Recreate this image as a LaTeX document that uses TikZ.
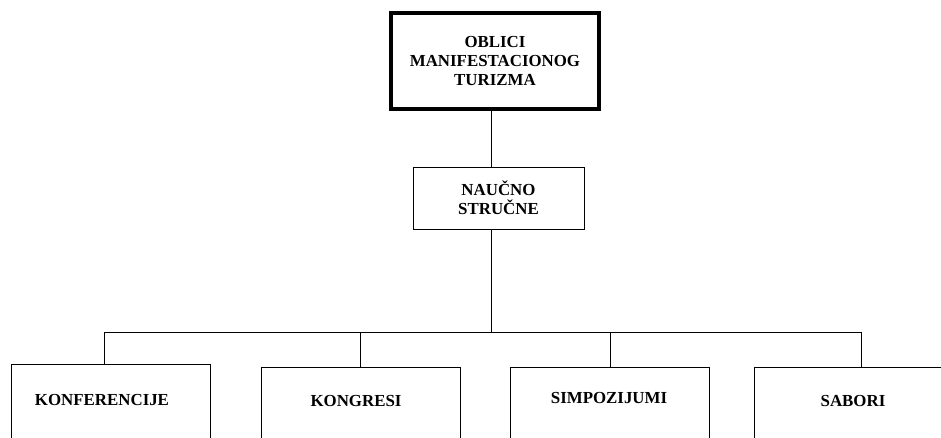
\documentclass[tikz,border=0pt]{standalone}
\usepackage{fontspec}
\setmainfont{Liberation Serif}
\usepackage{tikz}
\usetikzlibrary{positioning}

\tikzset{
  box/.style={draw, line width=0.5pt, inner sep=0pt, align=center,
    font=\fontsize{9.6}{11}\selectfont\bfseries},
  leaf/.style={draw, line width=0.5pt, anchor=north, minimum width=3.98cm, minimum height=2.4cm},
  leaftext/.style={font=\fontsize{9.6}{11}\selectfont\bfseries},
  wire/.style={line width=0.5pt}
}

\begin{document}
\begin{tikzpicture}[x=0.02cm, y=-0.02cm]
    \useasboundingbox (0, 0) rectangle (941, 437);
    \clip (0, 0) rectangle (941, 437);
    \node[box, line width=2pt, minimum width=4.17cm, minimum height=1.93cm] (top) at (495, 61)
      {OBLICI\\MANIFESTACIONOG\\TURIZMA};
    \node[box, minimum width=3.42cm, minimum height=1.24cm] (mid) at (498.5, 198)
      {NAUČNO\\STRUČNE};
    \coordinate (spine) at (491, 332);
    \coordinate (busL) at (104, 332);
    \coordinate (busR) at (861, 332);
    \node[leaf] (konf) at (110.5, 364) {};
    \node[leaf] (kong) at (360.5, 367) {};
    \node[leaf] (simp) at (610, 367) {};
    \node[leaf] (sab) at (853.5, 367) {};
    \node[leaftext] (konfT) at (102, 400) {KONFERENCIJE};
    \node[leaftext] (kongT) at (356, 401) {KONGRESI};
    \node[leaftext] (simpT) at (609, 398) {SIMPOZIJUMI};
    \node[leaftext] (sabT) at (853, 401) {SABORI};
    \draw[wire] (top.south -| spine) -- (mid.north -| spine);
    \draw[wire] (mid.south -| spine) -- (spine);
    \draw[wire] (busL) -- (busR);
    \draw[wire] (busL) -- (busL |- konf.north);
    \draw[wire] (spine -| kong.north) -- (kong.north);
    \draw[wire] (spine -| simp.north) -- (simp.north);
    \draw[wire] (busR) -- (busR |- sab.north);
  \end{tikzpicture}
\end{document}
